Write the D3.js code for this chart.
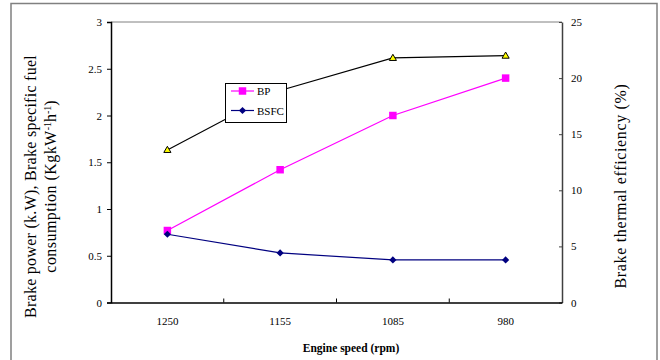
<!DOCTYPE html>
<html><head><meta charset="utf-8">
<script src="https://cdn.jsdelivr.net/npm/d3@7"></script>
<style>body{margin:0;background:#fff}svg{display:block}</style>
</head><body>
<svg id="c" width="660" height="360"></svg>
<script>
const categories = ["1250","1155","1085","980"];
const bp   = [0.77, 1.42, 2.0, 2.4];
const bsfc = [0.73, 0.53, 0.455, 0.455];
const bte  = [13.6, 18.9, 21.8, 22.0];
const leftTicks  = [0,0.5,1,1.5,2,2.5,3];
const rightTicks = [0,5,10,15,20,25];

const FONT = "'Liberation Serif','Times New Roman',Times,'DejaVu Serif',serif";
const svg = d3.select("#c");
const L=111, R=562, T=22, B=302.5;
svg.append("rect").attr("x",11).attr("y",3.5).attr("width",646).attr("height",400)
  .attr("fill","none").attr("stroke","#808080").attr("stroke-width",1.5);

const x = d3.scaleBand().domain(categories).range([L,R]);
const yL = d3.scaleLinear().domain([0,3]).range([B,T]);
const yR = d3.scaleLinear().domain([0,25]).range([B,T]);
const cx = d => x(d)+x.bandwidth()/2;

svg.append("line").attr("x1",L).attr("x2",R).attr("y1",T).attr("y2",T).attr("stroke","#808080").attr("stroke-width",1);

const gl = svg.append("g").attr("transform",`translate(${L},0)`)
  .call(d3.axisLeft(yL).tickValues(leftTicks).tickSize(4).tickPadding(5).tickFormat(d=>String(d)));
gl.select(".domain").attr("stroke","#000").attr("stroke-width",1.5);
gl.selectAll(".tick line").attr("stroke","#000");

const gr = svg.append("g").attr("transform",`translate(${R},0)`)
  .call(d3.axisRight(yR).tickValues(rightTicks).tickSizeInner(-3).tickSizeOuter(0).tickPadding(9));
gr.select(".domain").attr("stroke","#404040").attr("stroke-width",1.5);
gr.selectAll(".tick line").attr("stroke","#404040");

const gb = svg.append("g").attr("transform",`translate(0,${B})`)
  .call(d3.axisBottom(x).tickSize(0).tickPadding(15));
gb.select(".domain").attr("stroke","#000").attr("stroke-width",1.5);
gb.selectAll(".bt").data(categories.slice(1)).enter().append("line")
  .attr("x1",d=>x(d)).attr("x2",d=>x(d)).attr("y1",0).attr("y2",-4).attr("stroke","#000");

[gl,gr,gb].forEach(g=>{
  g.attr("font-family",null).attr("font-size",null);
  g.selectAll("text").style("font-family",FONT).style("font-size","11px").attr("fill","#000");
});

const lineL = d3.line().x((d,i)=>cx(categories[i])).y(d=>yL(d));
const lineR = d3.line().x((d,i)=>cx(categories[i])).y(d=>yR(d));
svg.append("path").attr("d",lineR(bte)).attr("fill","none").attr("stroke","#000").attr("stroke-width",1.2);
svg.append("path").attr("d",lineL(bp)).attr("fill","none").attr("stroke","#ff00ff").attr("stroke-width",1.2);
svg.append("path").attr("d",lineL(bsfc)).attr("fill","none").attr("stroke","#000080").attr("stroke-width",1.2);

const tri = d3.symbol().type(d3.symbolTriangle).size(22);
const sq = d3.symbol().type(d3.symbolSquare).size(56);
const dia = "M0,-3.6L3.6,0L0,3.6L-3.6,0Z";

svg.selectAll(".tri").data(bte).enter().append("path")
  .attr("d",tri).attr("transform",(d,i)=>`translate(${cx(categories[i])},${yR(d)+0.5})`)
  .attr("fill","#ffff00").attr("stroke","#000").attr("stroke-width",1);
svg.selectAll(".sq").data(bp).enter().append("path")
  .attr("d",sq).attr("transform",(d,i)=>`translate(${cx(categories[i])},${yL(d)})`)
  .attr("fill","#ff00ff");
svg.selectAll(".dia").data(bsfc).enter().append("path")
  .attr("d",dia).attr("transform",(d,i)=>`translate(${cx(categories[i])},${yL(d)})`)
  .attr("fill","#000080");

const lg = svg.append("g");
lg.append("rect").attr("x",225.5).attr("y",83.5).attr("width",61).attr("height",39)
  .attr("fill","#fff").attr("stroke","#000").attr("stroke-width",1);
const items=[{n:"BP",c:"#ff00ff",s:sq(),y:91},{n:"BSFC",c:"#000080",s:dia,y:110.5}];
items.forEach(it=>{
  lg.append("line").attr("x1",231).attr("x2",254).attr("y1",it.y).attr("y2",it.y).attr("stroke",it.c).attr("stroke-width",1.2);
  lg.append("path").attr("d",it.s).attr("transform",`translate(242.5,${it.y})`).attr("fill",it.c);
  lg.append("text").attr("x",257).attr("y",it.y+4).style("font-family",FONT).style("font-size","11px").text(it.n);
});

const lt = svg.append("text").attr("transform","translate(36,186.5) rotate(-90)")
  .attr("text-anchor","middle").style("font-family",FONT).style("font-size","16px").attr("fill","#000");
lt.append("tspan").attr("x",0).attr("dy",0).style("letter-spacing","0.27px").text("Brake power (k.W), Brake specific fuel");
lt.append("tspan").attr("x",0).attr("dy",20).style("letter-spacing","0.45px").text("consumption (KgkW");
lt.append("tspan").attr("dy",-5).style("font-size","10px").text("-1");
lt.append("tspan").attr("dy",5).text("h");
lt.append("tspan").attr("dy",-5).style("font-size","10px").text("-1");
lt.append("tspan").attr("dy",5).text(")");

svg.append("text").attr("transform","translate(626,186) rotate(-90)")
  .attr("text-anchor","middle").style("font-family",FONT).style("font-size","16px").style("letter-spacing","0.65px")
  .attr("fill","#000").text("Brake thermal efficiency (%)");

svg.append("text").attr("x",351).attr("y",352).attr("text-anchor","middle")
  .style("font-family",FONT).style("font-size","11.5px").style("font-weight","bold").attr("fill","#000").text("Engine speed (rpm)");
</script>
</body></html>
